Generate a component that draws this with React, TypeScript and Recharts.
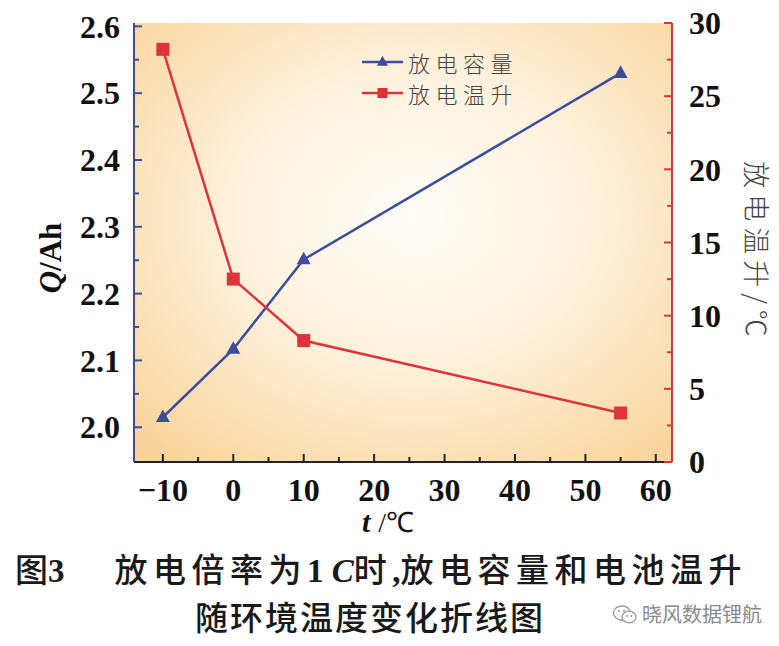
import React from "react";
import {
  LineChart,
  Line,
  XAxis,
  YAxis,
  CartesianGrid,
  Legend,
} from "recharts";

// ambient temperature (°C)
const temps = [-10, 0, 10, 55];
// discharge capacity Q (Ah)
const capacity = [2.015, 2.117, 2.251, 2.53];
// discharge temperature rise (°C)
const tempRise = [28.2, 12.5, 8.3, 3.35];

const xTicks = [-10, -5, 0, 5, 10, 15, 20, 25, 30, 35, 40, 45, 50, 55, 60];
const qTicks = [2.0, 2.05, 2.1, 2.15, 2.2, 2.25, 2.3, 2.35, 2.4, 2.45, 2.5, 2.55, 2.6];
const riseTicks = [0, 2.5, 5, 7.5, 10, 12.5, 15, 17.5, 20, 22.5, 25, 27.5, 30];

const seriesNames = ["放电容量", "放电温升"];

const BLUE = "#3d4d9d";
const RED = "#de3339";
const SERIF = "'Liberation Serif', 'Times New Roman', serif";
const CJK = "'Noto Sans CJK SC', sans-serif";

const data = temps.map((t, i) => ({ t, q: capacity[i], rise: tempRise[i] }));

const tickText = {
  fontFamily: SERIF,
  fontWeight: 700,
  fontSize: 32,
  fill: "#111",
};

// tickSize=-8, tickMargin=22 -> label sits 14px outside the axis line
const LeftTick = (props: any) => {
  const { x, y, payload } = props;
  const v = payload.value;
  const major = Math.round(v * 100) % 10 === 0;
  const ax = x + 14;
  return (
    <g>
      <line x1={ax} x2={ax + (major ? 8 : 5)} y1={y} y2={y} stroke={BLUE} strokeWidth={2} />
      {major && (
        <text x={x} y={y} dy="0.35em" textAnchor="end" {...tickText}>
          {v.toFixed(1)}
        </text>
      )}
    </g>
  );
};

const RightTick = (props: any) => {
  const { x, y, payload } = props;
  const v = payload.value;
  const major = v % 5 === 0;
  const ax = x - 17;
  return (
    <g>
      <line x1={ax} x2={ax - (major ? 8 : 5)} y1={y} y2={y} stroke={RED} strokeWidth={2} />
      {major && (
        <text x={x} y={y} dy="0.35em" textAnchor="start" {...tickText}>
          {v}
        </text>
      )}
    </g>
  );
};

const BottomTick = (props: any) => {
  const { x, y, payload } = props;
  const v = payload.value;
  const major = v % 10 === 0;
  const ay = y - 6;
  return (
    <g>
      <line x1={x} x2={x} y1={ay} y2={ay - (major ? 8 : 5)} stroke="#222" strokeWidth={2} />
      {major && (
        <text x={x} y={ay + 39} textAnchor="middle" {...tickText}>
          {v < 0 ? `\u2212${Math.abs(v)}` : v}
        </text>
      )}
    </g>
  );
};

const Triangle = (props: any) => {
  const { cx, cy, size = 13, fill } = props;
  if (cx == null || cy == null) return null;
  const h = size * 0.9;
  return (
    <path
      d={`M${cx},${cy - h * 0.62} L${cx + size / 2},${cy + h * 0.38} L${cx - size / 2},${cy + h * 0.38} Z`}
      fill={fill}
    />
  );
};

const Square = (props: any) => {
  const { cx, cy, size = 12, fill } = props;
  if (cx == null || cy == null) return null;
  return <rect x={cx - size / 2} y={cy - size / 2} width={size} height={size} fill={fill} />;
};

const LegendBox = () => {
  const rows = [
    { name: seriesNames[0], color: BLUE, tri: true },
    { name: seriesNames[1], color: RED, tri: false },
  ];
  return (
    <div>
      {rows.map((r) => (
        <div key={r.name} style={{ display: "flex", alignItems: "center", height: 31 }}>
          <svg width={44} height={20}>
            <line x1={0} x2={41} y1={10} y2={10} stroke={r.color} strokeWidth={2.5} />
            {r.tri ? (
              <Triangle cx={20.5} cy={10} size={11} fill={r.color} />
            ) : (
              <Square cx={20.5} cy={10} size={10} fill={r.color} />
            )}
          </svg>
          <span
            style={{
              fontFamily: CJK,
              fontWeight: 300,
              fontSize: 22,
              letterSpacing: 5.5,
              color: "#444",
              marginLeft: 2,
            }}
          >
            {r.name}
          </span>
        </div>
      ))}
    </div>
  );
};

const WeChatIcon = () => (
  <svg width={26} height={22} style={{ verticalAlign: "-4px", marginRight: 4 }}>
    <ellipse cx={10} cy={9} rx={8.5} ry={7} fill="none" stroke="#9a9a9a" strokeWidth={1.3} />
    <ellipse cx={17} cy={13} rx={7} ry={5.8} fill="#fff" stroke="#9a9a9a" strokeWidth={1.3} />
    <circle cx={7} cy={7} r={1} fill="#9a9a9a" />
    <circle cx={12} cy={7} r={1} fill="#9a9a9a" />
    <circle cx={15} cy={12} r={0.9} fill="#9a9a9a" />
    <circle cx={19.5} cy={12} r={0.9} fill="#9a9a9a" />
  </svg>
);

export default function App() {
  return (
    <div
      style={{
        position: "absolute",
        left: 0,
        top: 0,
        width: 779,
        height: 646,
        background: "#fff",
      }}
    >
      <LineChart
        width={779}
        height={646}
        data={data}
        margin={{ top: 23, right: 0, bottom: 106, left: 0 }}
      >
        <defs>
          <radialGradient id="plotBg" cx="0.52" cy="0.44" r="0.72">
            <stop offset="0" stopColor="#fffdf9" />
            <stop offset="0.45" stopColor="#fef2de" />
            <stop offset="1" stopColor="#f9d49b" />
          </radialGradient>
        </defs>
        <CartesianGrid horizontal={false} vertical={false} fill="url(#plotBg)" />
        <XAxis
          dataKey="t"
          type="number"
          domain={[-14.1, 62.3]}
          ticks={xTicks}
          interval={0}
          height={78}
          tickSize={-8}
          tickMargin={14}
          tickLine={false}
          axisLine={{ stroke: "#222", strokeWidth: 2 }}
          tick={<BottomTick />}
          label={{
            content: () => (
              <text x={362} y={532} fill="#111">
                <tspan fontFamily={SERIF} fontWeight={700} fontStyle="italic" fontSize={30}>
                  t
                </tspan>
                <tspan fontFamily={SERIF} fontSize={28} dx={8}>
                  /
                </tspan>
                <tspan fontFamily={SERIF} fontSize={28}>
                  ℃
                </tspan>
              </text>
            ),
          }}
        />
        <XAxis
          xAxisId="top"
          orientation="top"
          dataKey="t"
          type="number"
          domain={[-14.1, 62.3]}
          height={0}
          tick={false}
          tickLine={false}
          axisLine={{ stroke: "#222", strokeWidth: 2 }}
        />
        <YAxis
          yAxisId="q"
          orientation="left"
          type="number"
          domain={[1.948, 2.605]}
          ticks={qTicks}
          interval={0}
          width={134}
          tickSize={-8}
          tickMargin={22}
          tickLine={false}
          axisLine={{ stroke: BLUE, strokeWidth: 2 }}
          tick={<LeftTick />}
          label={{
            content: () => (
              <text
                x={50}
                y={258}
                transform="rotate(-90 50 258)"
                textAnchor="middle"
                dominantBaseline="central"
                fill="#111"
                fontFamily={SERIF}
                fontWeight={700}
                fontSize={31}
              >
                <tspan fontStyle="italic">Q</tspan>
                <tspan>/Ah</tspan>
              </text>
            ),
          }}
        />
        <YAxis
          yAxisId="rise"
          orientation="right"
          type="number"
          domain={[0, 30]}
          ticks={riseTicks}
          interval={0}
          width={107}
          tickSize={-8}
          tickMargin={25}
          tickLine={false}
          axisLine={{ stroke: RED, strokeWidth: 2 }}
          tick={<RightTick />}
          label={{
            content: () => (
              <text
                x={757}
                y={252}
                transform="rotate(90 757 252)"
                textAnchor="middle"
                dominantBaseline="central"
                fill="#444"
                fontFamily={CJK}
                fontWeight={300}
                fontSize={27}
                letterSpacing={6}
              >
                放电温升/℃
              </text>
            ),
          }}
        />
        <Legend
          layout="vertical"
          align="center"
          verticalAlign="middle"
          content={<LegendBox />}
          wrapperStyle={{ position: "absolute", left: 362, top: 46, width: 200 }}
        />
        <Line
          yAxisId="q"
          name={seriesNames[0]}
          dataKey="q"
          stroke={BLUE}
          strokeWidth={2.5}
          dot={<Triangle size={14} fill={BLUE} />}
          activeDot={false}
          isAnimationActive={false}
        />
        <Line
          yAxisId="rise"
          name={seriesNames[1]}
          dataKey="rise"
          stroke={RED}
          strokeWidth={2.5}
          dot={<Square size={13} fill={RED} />}
          activeDot={false}
          isAnimationActive={false}
        />
      </LineChart>

      <div
        style={{
          position: "absolute",
          left: 15,
          top: 546,
          whiteSpace: "nowrap",
          fontFamily: CJK,
          fontWeight: 500,
          fontSize: 33,
          lineHeight: "44px",
          color: "#1a1a1a",
        }}
      >
        <span>图</span>
        <span style={{ fontFamily: SERIF, fontWeight: 700 }}>3</span>
        <span style={{ display: "inline-block", width: 50 }} />
        <span style={{ letterSpacing: 5.5 }}>放电倍率为</span>
        <span style={{ fontFamily: SERIF, fontWeight: 700 }}>1 </span>
        <span style={{ fontFamily: SERIF, fontWeight: 700, fontStyle: "italic" }}>C</span>
        <span style={{ letterSpacing: 5.5 }}>时</span>
        <span style={{ fontFamily: SERIF, fontWeight: 700 }}>,</span>
        <span style={{ letterSpacing: 5.5 }}>放电容量和电池温升</span>
      </div>
      <div
        style={{
          position: "absolute",
          left: 195,
          top: 594,
          whiteSpace: "nowrap",
          fontFamily: CJK,
          fontWeight: 500,
          fontSize: 33,
          lineHeight: "44px",
          letterSpacing: 2,
          color: "#1a1a1a",
        }}
      >
        随环境温度变化折线图
      </div>
      <div
        style={{
          position: "absolute",
          left: 612,
          top: 600,
          whiteSpace: "nowrap",
          fontFamily: CJK,
          fontSize: 20,
          lineHeight: "28px",
          color: "#8a8a8a",
        }}
      >
        <WeChatIcon />
        晓风数据锂航
      </div>
    </div>
  );
}
